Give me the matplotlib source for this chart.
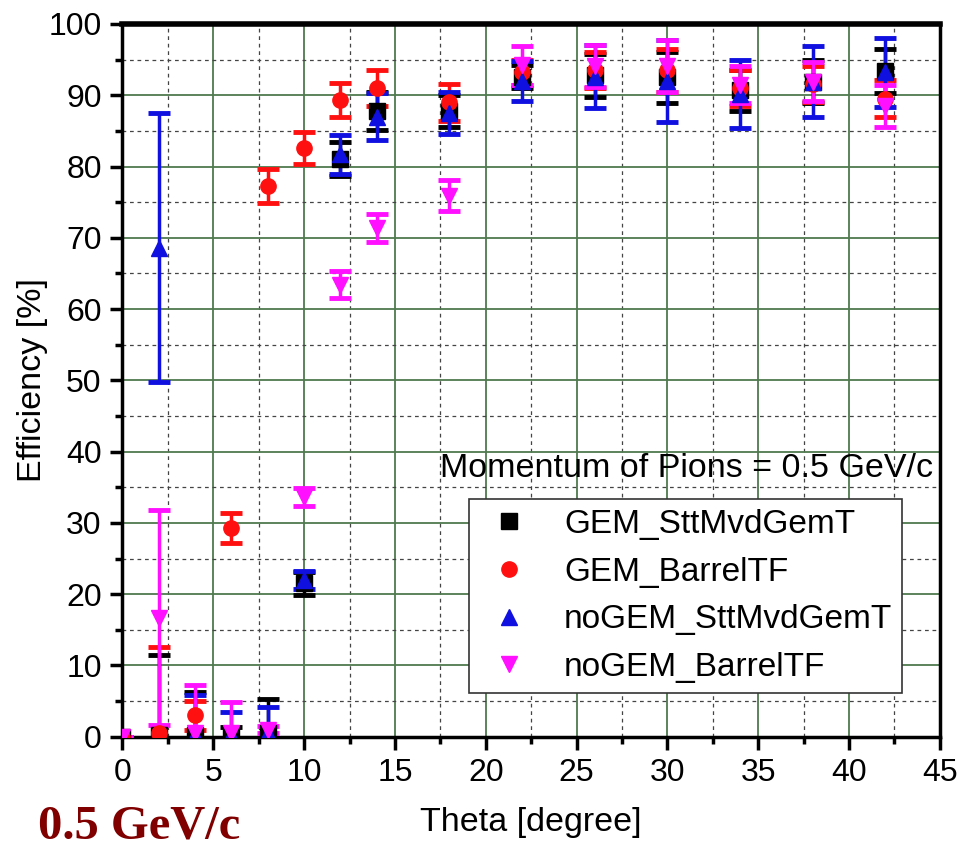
import matplotlib
matplotlib.use("Agg")
import matplotlib.pyplot as plt
from matplotlib.lines import Line2D
from matplotlib.ticker import MultipleLocator

plt.rcParams['font.family'] = ['Liberation Sans', 'DejaVu Sans']

# theta points (degree)
theta = [0, 2, 4, 6, 8, 10, 12, 14, 18, 22, 26, 30, 34, 38, 42]

# GEM_SttMvdGemT
gem_stt = [0, 0.3, 0.3, 0.3, 0.5, 21.5, 81.0, 87.8, 87.8, 92.6, 92.8, 92.5, 90.7, 91.9, 93.4]
gem_stt_err = [0, 11.1, 6.0, 1.1, 4.8, 1.6, 2.4, 2.7, 2.3, 1.6, 3.0, 3.6, 2.9, 3.0, 3.1]

# GEM_BarrelTF
gem_bar = [0, 0.5, 3.0, 29.3, 77.3, 82.6, 89.3, 91.0, 89.0, 93.2, 93.5, 93.5, 91.0, 91.6, 89.5]
gem_bar_err = [0, 12.1, 2.0, 2.1, 2.4, 2.3, 2.4, 2.5, 2.6, 1.8, 2.5, 3.0, 2.5, 2.5, 2.6]

# noGEM_SttMvdGemT
nogem_stt = [0, 68.6, 0.3, 0.3, 0.5, 22.0, 81.7, 87.0, 87.5, 92.0, 92.6, 92.0, 90.2, 91.9, 93.2]
nogem_stt_err = [0, 18.9, 5.6, 3.2, 3.7, 1.3, 2.7, 3.3, 2.9, 2.8, 4.4, 5.7, 4.8, 5.0, 4.8]

# noGEM_BarrelTF
nogem_bar = [0, 16.7, 0.5, 0.5, 1.0, 33.6, 63.4, 71.4, 75.9, 94.2, 94.1, 94.1, 91.5, 91.9, 88.5]
nogem_bar_err = [0, 15.1, 6.8, 4.4, 0.5, 1.3, 1.9, 2.0, 2.2, 2.7, 2.9, 3.6, 2.6, 2.7, 3.0]

labels = ['GEM_SttMvdGemT', 'GEM_BarrelTF', 'noGEM_SttMvdGemT', 'noGEM_BarrelTF']
colors = ['#000000', '#ff1010', '#1010e0', '#ff10ff']
markers = ['s', 'o', '^', 'v']

fig = plt.figure(figsize=(9.57, 8.5), dpi=100)
ax = fig.add_axes([0.128, 0.1333, 0.854, 0.8385])

series = [(gem_stt, gem_stt_err), (gem_bar, gem_bar_err),
          (nogem_stt, nogem_stt_err), (nogem_bar, nogem_bar_err)]
for (vals, errs), c, m in zip(series, colors, markers):
    ax.errorbar(theta, vals, yerr=errs, fmt=m, color=c, ms=11, mec=c,
                elinewidth=2.5, capsize=8, capthick=3.5, zorder=3)

ax.set_xlim(0, 45)
ax.set_ylim(0, 100)
ax.xaxis.set_major_locator(MultipleLocator(5))
ax.xaxis.set_minor_locator(MultipleLocator(2.5))
ax.yaxis.set_major_locator(MultipleLocator(10))
ax.yaxis.set_minor_locator(MultipleLocator(5))

# grid: solid green major, dashed minor
ax.grid(which='major', color='#4f7a4f', lw=1.3, ls='-', zorder=0)
ax.grid(which='minor', color='#444444', lw=0.9, ls=(0, (3, 3)), zorder=0)
ax.set_axisbelow(True)

ax.tick_params(which='major', direction='out', length=9, width=2.5, labelsize=23, pad=6)
ax.tick_params(which='minor', direction='out', length=5, width=2.5)
for s in ['left', 'bottom', 'right']:
    ax.spines[s].set_linewidth(2.5)
ax.spines['top'].set_linewidth(4)

ax.set_xlabel('Theta [degree]', fontsize=24.5, labelpad=14)
ax.set_ylabel('Efficiency [%]', fontsize=24.5, labelpad=0)

ax.text(17.5, 37.6, 'Momentum of Pions = 0.5 GeV/c', fontsize=24.5, va='center', ha='left')

handles = [Line2D([], [], ls='none', marker=m, color=c, ms=11) for m, c in zip(markers, colors)]
leg = ax.legend(handles, labels, loc='upper left', bbox_to_anchor=(0.424, 0.3335),
                fontsize=24, frameon=True, fancybox=False, framealpha=1,
                edgecolor='#333333', borderpad=0.3, labelspacing=0.5,
                handlelength=1.8, handletextpad=0.75, borderaxespad=0)
leg.get_frame().set_linewidth(1.2)

fig.text(0.04, 0.028, '0.5 GeV/c', fontsize=35, fontweight='bold', color='#800000',
         family=['Liberation Serif', 'DejaVu Serif'], va='center', ha='left')

fig.savefig('out.png', dpi=100)
